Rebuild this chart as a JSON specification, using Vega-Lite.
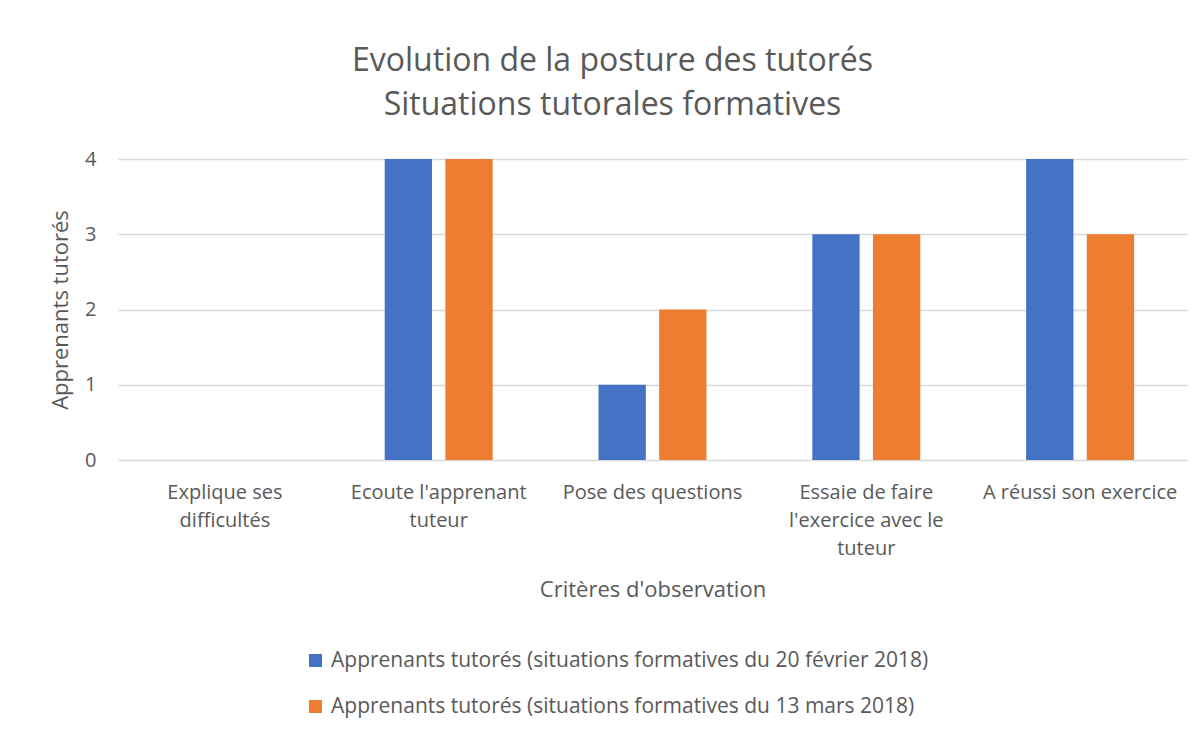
{
  "$schema": "https://vega.github.io/schema/vega-lite/v6.json",
  "autosize": {"type": "none"},
  "width": 1069,
  "height": 301,
  "padding": {"left": 118, "top": 159, "right": 17, "bottom": 269},
  "background": "white",
  "config": {
    "font": "Open Sans",
    "view": {"stroke": null},
    "axis": {"labelColor": "#595959", "titleColor": "#595959", "titleFontWeight": "normal"}
  },
  "title": {
    "text": ["Evolution de la posture des tutorés", "Situations tutorales formatives"],
    "fontSize": 32,
    "fontWeight": "normal",
    "color": "#595959",
    "lineHeight": 44,
    "anchor": "middle",
    "dx": -40,
    "offset": 27
  },
  "data": {
    "values": [
      {"critere": "Explique ses difficultés", "serie": "Apprenants tutorés (situations formatives du 20 février 2018)", "valeur": 0},
      {"critere": "Explique ses difficultés", "serie": "Apprenants tutorés (situations formatives du 13 mars 2018)", "valeur": 0},
      {"critere": "Ecoute l'apprenant tuteur", "serie": "Apprenants tutorés (situations formatives du 20 février 2018)", "valeur": 4},
      {"critere": "Ecoute l'apprenant tuteur", "serie": "Apprenants tutorés (situations formatives du 13 mars 2018)", "valeur": 4},
      {"critere": "Pose des questions", "serie": "Apprenants tutorés (situations formatives du 20 février 2018)", "valeur": 1},
      {"critere": "Pose des questions", "serie": "Apprenants tutorés (situations formatives du 13 mars 2018)", "valeur": 2},
      {"critere": "Essaie de faire l'exercice avec le tuteur", "serie": "Apprenants tutorés (situations formatives du 20 février 2018)", "valeur": 3},
      {"critere": "Essaie de faire l'exercice avec le tuteur", "serie": "Apprenants tutorés (situations formatives du 13 mars 2018)", "valeur": 3},
      {"critere": "A réussi son exercice", "serie": "Apprenants tutorés (situations formatives du 20 février 2018)", "valeur": 4},
      {"critere": "A réussi son exercice", "serie": "Apprenants tutorés (situations formatives du 13 mars 2018)", "valeur": 3}
    ]
  },
  "mark": {"type": "bar"},
  "encoding": {
    "x": {
      "field": "critere",
      "type": "nominal",
      "sort": null,
      "scale": {"paddingInner": 0.495, "paddingOuter": 0.2475},
      "axis": {
        "title": "Critères d'observation",
        "titleFontSize": 22,
        "titlePadding": 21,
        "labelFontSize": 20,
        "labelAngle": 0,
        "labelPadding": 22,
        "labelLineHeight": 28,
        "labelBaseline": "top",
        "labelLimit": 300,
        "ticks": false,
        "domain": false,
        "grid": false,
        "labelExpr": "datum.label == 'Explique ses difficultés' ? ['Explique ses', 'difficultés'] : datum.label == \"Ecoute l'apprenant tuteur\" ? [\"Ecoute l'apprenant\", 'tuteur'] : datum.label == \"Essaie de faire l'exercice avec le tuteur\" ? ['Essaie de faire', \"l'exercice avec le\", 'tuteur'] : datum.label"
      }
    },
    "xOffset": {
      "field": "serie",
      "type": "nominal",
      "sort": null,
      "scale": {"paddingInner": 0.22, "paddingOuter": 0}
    },
    "y": {
      "field": "valeur",
      "type": "quantitative",
      "scale": {"domain": [0, 4], "nice": false},
      "axis": {
        "title": "Apprenants tutorés",
        "titleFontSize": 22,
        "titlePadding": 12,
        "labelFontSize": 20,
        "labelPadding": 22,
        "values": [0, 1, 2, 3, 4],
        "labelOverlap": false,
        "format": "d",
        "ticks": false,
        "domain": false,
        "gridColor": "#d9d9d9",
        "gridWidth": 1.5
      }
    },
    "color": {
      "field": "serie",
      "type": "nominal",
      "sort": null,
      "scale": {"range": ["#4472C4", "#ED7D31"]},
      "legend": {
        "title": null,
        "orient": "none",
        "legendX": 187,
        "legendY": 491,
        "direction": "vertical",
        "symbolType": "square",
        "symbolSize": 169,
        "symbolStrokeWidth": 0,
        "labelFontSize": 21,
        "labelColor": "#595959",
        "labelOffset": 5,
        "labelLimit": 900,
        "rowPadding": 24
      }
    }
  }
}
